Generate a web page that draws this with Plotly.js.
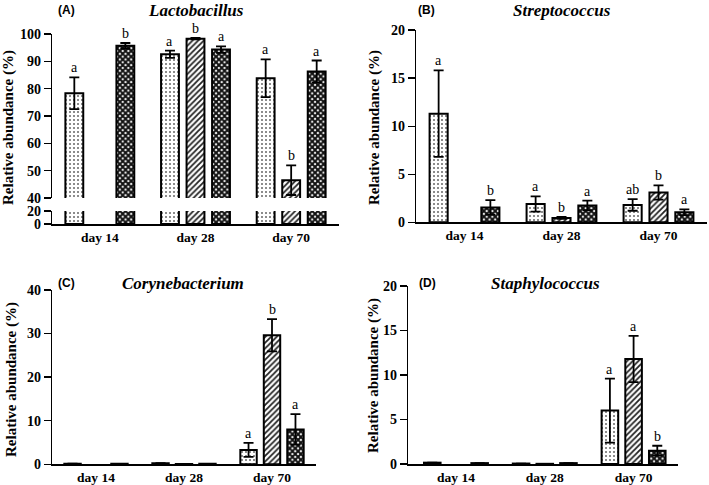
<!DOCTYPE html>
<html>
<head>
<meta charset="utf-8">
<script src="https://cdn.plot.ly/plotly-3.0.1.min.js"></script>
<style>html,body{margin:0;padding:0;background:#fff;}#chart{width:709px;height:485px;}</style>
</head>
<body>
<div id="chart"></div>
<script>
// ---------- data ----------
const categories = ['day 14', 'day 28', 'day 70'];

// (A) Lactobacillus
const lactoS1 = [78.3, 92.6, 83.8];
const lactoS1Err = [5.8, 1.3, 6.9];
const lactoS2 = [null, 98.3, 46.5];
const lactoS2Err = [0, 0.3, 5.4];
const lactoS3 = [95.7, 94.3, 86.3];
const lactoS3Err = [1.0, 1.2, 4.0];
const lactoLetters1 = ['a', 'a', 'a'];
const lactoLetters2 = ['', 'b', 'b'];
const lactoLetters3 = ['b', 'a', 'a'];

// (B) Streptococcus
const strepS1 = [11.3, 1.9, 1.8];
const strepS1Err = [4.5, 0.8, 0.6];
const strepS2 = [null, 0.45, 3.1];
const strepS2Err = [0, 0.1, 0.75];
const strepS3 = [1.55, 1.75, 1.05];
const strepS3Err = [0.75, 0.5, 0.3];
const strepLetters1 = ['a', 'a', 'ab'];
const strepLetters2 = ['', 'b', 'b'];
const strepLetters3 = ['b', 'a', 'a'];

// (C) Corynebacterium
const coryS1 = [0.15, 0.25, 3.3];
const coryS1Err = [0, 0, 1.6];
const coryS2 = [null, 0.05, 29.6];
const coryS2Err = [0, 0, 3.7];
const coryS3 = [0.1, 0.1, 8.0];
const coryS3Err = [0, 0, 3.5];
const coryLetters1 = ['', '', 'a'];
const coryLetters2 = ['', '', 'b'];
const coryLetters3 = ['', '', 'a'];

// (D) Staphylococcus
const staphS1 = [0.15, 0.05, 6.0];
const staphS1Err = [0, 0, 3.6];
const staphS2 = [null, 0.02, 11.8];
const staphS2Err = [0, 0, 2.6];
const staphS3 = [0.1, 0.1, 1.5];
const staphS3Err = [0, 0, 0.55];
const staphLetters1 = ['', '', 'a'];
const staphLetters2 = ['', '', 'a'];
const staphLetters3 = ['', '', 'b'];

// ---------- styles ----------
const SERIF = 'Liberation Serif';
const SANS = 'Liberation Sans';
const BARGAP = 0.2;
const SLOT = (1 - BARGAP) / 3;

const patterns = [
  {shape: '.', fgcolor: '#666', bgcolor: '#fff', size: 4, solidity: 0.2},
  {shape: '/', fgcolor: '#222', bgcolor: '#fff', size: 4, solidity: 0.45},
  {shape: 'x', fgcolor: '#111', bgcolor: '#fff', size: 4, solidity: 0.75}
];

function barTrace(vals, errs, si, xa, ya, showErr) {
  return {
    type: 'bar', x: categories, y: vals, xaxis: xa, yaxis: ya,
    marker: {color: '#fff', pattern: patterns[si], line: {color: '#000', width: 2}},
    error_y: showErr ? {type: 'data', array: errs, visible: true, color: '#000', thickness: 1.8, width: 5} : {visible: false},
    showlegend: false, hoverinfo: 'skip'
  };
}

const traces = [];
const annotations = [];

function addLetters(vals, errs, letters, si, xa, ya) {
  for (let g = 0; g < categories.length; g++) {
    if (!letters[g] || vals[g] == null) continue;
    annotations.push({
      xref: xa, yref: ya, x: g + (si - 1) * SLOT, y: vals[g] + errs[g],
      text: letters[g], showarrow: false, yanchor: 'bottom', yshift: 0,
      font: {family: SERIF, size: 14, color: '#000'}
    });
  }
}

function addPanel(series, errsList, lettersList, xa, ya) {
  series.forEach((s, i) => {
    traces.push(barTrace(s, errsList[i], i, xa, ya, true));
    addLetters(s, errsList[i], lettersList[i], i, xa, ya);
  });
}

// Panel A: upper part (x/y) and lower part (x2/y2) of the broken axis
const lacto = [lactoS1, lactoS2, lactoS3];
const lactoErr = [lactoS1Err, lactoS2Err, lactoS3Err];
addPanel(lacto, lactoErr, [lactoLetters1, lactoLetters2, lactoLetters3], 'x', 'y');
lacto.forEach((s, i) => traces.push(barTrace(s, lactoErr[i], i, 'x2', 'y2', false)));
// Panel B
addPanel([strepS1, strepS2, strepS3], [strepS1Err, strepS2Err, strepS3Err],
  [strepLetters1, strepLetters2, strepLetters3], 'x3', 'y3');
// Panel C
addPanel([coryS1, coryS2, coryS3], [coryS1Err, coryS2Err, coryS3Err],
  [coryLetters1, coryLetters2, coryLetters3], 'x4', 'y4');
// Panel D
addPanel([staphS1, staphS2, staphS3], [staphS1Err, staphS2Err, staphS3Err],
  [staphLetters1, staphLetters2, staphLetters3], 'x5', 'y5');

const W = 709, H = 485;
const px = v => v / W;
const py = v => 1 - v / H;

const yTickFont = {family: SERIF, size: 14, color: '#000', weight: 'bold'};
const xTickFont = {family: SERIF, size: 13.5, color: '#000', weight: 'bold'};
function xAxis(d0, d1, anchor, show, range) {
  return {
    domain: [px(d0), px(d1)], anchor: anchor, type: 'category',
    range: range || [-0.5, 2.5], showline: show, linecolor: '#000', linewidth: 1.5,
    showticklabels: show, ticks: '', showgrid: false, zeroline: false,
    tickfont: xTickFont, fixedrange: true
  };
}
function yAxis(top, bottom, anchor, range, dtick, tickvals) {
  const a = {
    domain: [py(bottom), py(top)], anchor: anchor, range: range,
    showline: true, linecolor: '#000', linewidth: 1.3,
    ticks: 'outside', ticklen: 7, tickwidth: 1.3, tickcolor: '#000',
    showgrid: false, zeroline: false, tickfont: yTickFont, fixedrange: true
  };
  if (tickvals) { a.tickmode = 'array'; a.tickvals = tickvals; }
  else { a.tickmode = 'linear'; a.tick0 = 0; a.dtick = dtick; }
  return a;
}

function panelTitle(xc, yc, label, lx, name) {
  annotations.push({xref: 'paper', yref: 'paper', x: px(lx), y: py(yc), text: label, showarrow: false,
    xanchor: 'center', yanchor: 'middle', font: {family: SANS, size: 12, color: '#000', weight: 'bold'}});
  annotations.push({xref: 'paper', yref: 'paper', x: px(xc), y: py(yc), text: name, showarrow: false,
    xanchor: 'center', yanchor: 'middle', font: {family: SERIF, size: 17, color: '#000', weight: 'bold', style: 'italic'}});
}
function yTitle(xc, yc) {
  annotations.push({xref: 'paper', yref: 'paper', x: px(xc), y: py(yc), text: 'Relative abundance (%)',
    showarrow: false, textangle: -90, xanchor: 'center', yanchor: 'middle',
    font: {family: SERIF, size: 15, color: '#000', weight: 'bold'}});
}

panelTitle(196, 10, '(A)', 66, 'Lactobacillus');
panelTitle(562, 10, '(B)', 427, 'Streptococcus');
panelTitle(183, 283, '(C)', 66, 'Corynebacterium');
panelTitle(545, 283, '(D)', 428, 'Staphylococcus');
yTitle(9, 128);
yTitle(375, 127);
yTitle(11, 380);
yTitle(373, 375);

const layout = {
  width: W, height: H, margin: {l: 0, r: 0, t: 0, b: 0},
  paper_bgcolor: '#fff', plot_bgcolor: 'rgba(0,0,0,0)',
  barmode: 'group', bargap: BARGAP, bargroupgap: 0.3,
  showlegend: false,
  xaxis: xAxis(52, 339, 'y', false),
  yaxis: yAxis(34, 198, 'x', [40, 100], 10),
  xaxis2: xAxis(52, 339, 'y2', true),
  yaxis2: yAxis(211, 224, 'x2', [0, 20], null, [0, 20]),
  xaxis3: xAxis(416, 707, 'y3', true),
  yaxis3: yAxis(30, 222.3, 'x3', [0, 20], 5),
  xaxis4: xAxis(52, 316, 'y4', true),
  yaxis4: yAxis(290, 464.3, 'x4', [0, 40], 10),
  xaxis5: xAxis(408, 678, 'y5', true, [-0.54, 2.5]),
  yaxis5: yAxis(286, 464, 'x5', [0, 20], 5),
  annotations: annotations
};

Plotly.newPlot('chart', traces, layout, {staticPlot: true, displayModeBar: false});
</script>
</body>
</html>
